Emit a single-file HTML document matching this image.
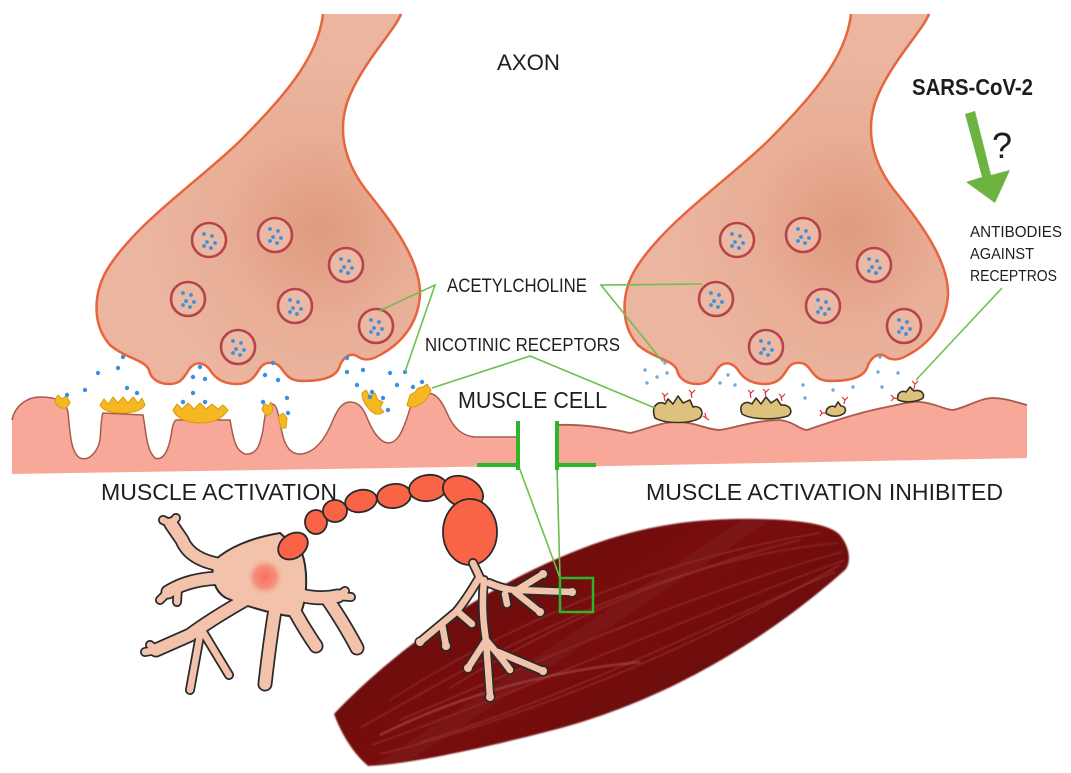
<!DOCTYPE html>
<html><head><meta charset="utf-8"><style>
html,body{margin:0;padding:0;background:#fff;}
svg{display:block;}
text{font-family:"Liberation Sans",Arial,sans-serif;fill:#1e1e1e;}
</style></head><body>
<svg width="1071" height="773" viewBox="0 0 1071 773" xmlns="http://www.w3.org/2000/svg">
<defs>
<radialGradient id="axg" gradientUnits="userSpaceOnUse" cx="320" cy="230" r="170">
<stop offset="0" stop-color="#df9a7e"/><stop offset="0.55" stop-color="#e8ad95"/><stop offset="1" stop-color="#ebb59f"/>
</radialGradient>
<radialGradient id="axg2" gradientUnits="userSpaceOnUse" cx="848" cy="230" r="170">
<stop offset="0" stop-color="#df9a7e"/><stop offset="0.55" stop-color="#e8ad95"/><stop offset="1" stop-color="#ebb59f"/>
</radialGradient>
<radialGradient id="glow" cx="0.5" cy="0.5" r="0.5">
<stop offset="0" stop-color="#f76f5e"/><stop offset="0.6" stop-color="#f6907c"/><stop offset="1" stop-color="#f2c2aa" stop-opacity="0"/>
</radialGradient>
<linearGradient id="mus" gradientUnits="userSpaceOnUse" x1="500" y1="560" x2="620" y2="740">
<stop offset="0" stop-color="#6a0707"/><stop offset="0.5" stop-color="#7a1212"/><stop offset="1" stop-color="#6c0909"/>
</linearGradient>
<filter id="soft"><feGaussianBlur stdDeviation="0.7"/></filter>
<g id="vdots" fill="#3b8fe0">
<circle cx="-5" cy="-6" r="1.9"/><circle cx="3" cy="-4" r="1.9"/><circle cx="-2" cy="2" r="1.9"/><circle cx="6" cy="3" r="1.9"/><circle cx="-5" cy="6" r="1.9"/><circle cx="2" cy="8" r="1.9"/>
</g>
<path id="axpath" d="M323,14 C318,60 280,100 241,140 C200,180 140,220 110,265 C92,292 92,325 110,345 C125,358 145,360 149,370 C151,380 160,384 170,384 C182,384 185,375 190,368 C196,361 204,362 210,370 C216,380 225,384 237,384 C252,384 256,374 260,368 C265,361 276,361 281,368 C287,376 290,381 303,381 C320,381 335,378 339,368 C342,358 350,352 357,356 C362,360 370,361 378,356 C400,345 418,325 420,295 C421,260 390,220 370,195 C345,165 335,130 350,95 C365,60 395,30 401,14"/>
</defs>

<!-- AXONS -->
<use href="#axpath" fill="url(#axg)" stroke="#e8643c" stroke-width="2.5"/>
<use href="#axpath" x="528" fill="url(#axg)" stroke="#e8643c" stroke-width="2.5"/>

<!-- vesicles -->
<g fill="#ebb8a3" stroke="#b5444d" stroke-width="2.6">
<circle cx="209" cy="240" r="17"/><circle cx="275" cy="235" r="17"/><circle cx="346" cy="265" r="17"/><circle cx="188" cy="299" r="17"/><circle cx="295" cy="306" r="17"/><circle cx="376" cy="326" r="17"/><circle cx="238" cy="347" r="17"/>
<circle cx="737" cy="240" r="17"/><circle cx="803" cy="235" r="17"/><circle cx="874" cy="265" r="17"/><circle cx="716" cy="299" r="17"/><circle cx="823" cy="306" r="17"/><circle cx="904" cy="326" r="17"/><circle cx="766" cy="347" r="17"/>
</g>
<use href="#vdots" x="209" y="240"/><use href="#vdots" x="275" y="235"/><use href="#vdots" x="346" y="265"/><use href="#vdots" x="188" y="299"/><use href="#vdots" x="295" y="306"/><use href="#vdots" x="376" y="326"/><use href="#vdots" x="238" y="347"/>
<use href="#vdots" x="737" y="240"/><use href="#vdots" x="803" y="235"/><use href="#vdots" x="874" y="265"/><use href="#vdots" x="716" y="299"/><use href="#vdots" x="823" y="306"/><use href="#vdots" x="904" y="326"/><use href="#vdots" x="766" y="347"/>

<!-- LEFT MUSCLE -->
<path d="M12,474 L12,420 C15,405 28,397 40,397 C55,397 65,400 68,412 C70,430 70,452 80,458 C90,462 98,450 100,440 C101,428 101,418 103,413 L143,415 C146,430 146,450 155,458 C165,462 170,445 172,430 C173,424 174,421 176,420 L230,420 C233,435 234,450 245,454 C257,455 260,445 263,430 C265,415 266,405 272,404 C278,404 279,420 282,432 C285,448 292,455 302,454 C315,452 325,440 333,420 C338,408 343,402 350,402 C360,402 364,410 368,420 C373,432 380,442 388,443 C398,443 403,430 408,415 C412,400 418,393 427,393 C437,393 442,402 447,413 C452,425 460,436 475,437 L516,437 L516,466 Z" fill="#f7a898"/>
<path d="M12,420 C15,405 28,397 40,397 C55,397 65,400 68,412 C70,430 70,452 80,458 C90,462 98,450 100,440 C101,428 101,418 103,413 L143,415 C146,430 146,450 155,458 C165,462 170,445 172,430 C173,424 174,421 176,420 L230,420 C233,435 234,450 245,454 C257,455 260,445 263,430 C265,415 266,405 272,404 C278,404 279,420 282,432 C285,448 292,455 302,454 C315,452 325,440 333,420 C338,408 343,402 350,402 C360,402 364,410 368,420 C373,432 380,442 388,443 C398,443 403,430 408,415 C412,400 418,393 427,393 C437,393 442,402 447,413 C452,425 460,436 475,437 L516,437" fill="none" stroke="#a85a4e" stroke-width="1.5"/>

<!-- RIGHT MUSCLE -->
<path d="M557,467 L557,425 C580,424 603,427 630,433 C645,430 660,422 677,422 C695,422 708,430 720,430 C735,428 750,421 780,420 C795,422 800,430 807,430 C830,422 860,412 887,407 C905,403 915,401 920,402 C935,403 945,410 953,410 C965,408 980,398 993,398 C1005,398 1015,402 1027,405 L1027,458 Z" fill="#f7a898"/>
<path d="M557,425 C580,424 603,427 630,433 C645,430 660,422 677,422 C695,422 708,430 720,430 C735,428 750,421 780,420 C795,422 800,430 807,430 C830,422 860,412 887,407 C905,403 915,401 920,402 C935,403 945,410 953,410 C965,408 980,398 993,398 C1005,398 1015,402 1027,405" fill="none" stroke="#a85a4e" stroke-width="1.8"/>

<!-- left receptors -->
<g fill="#f6b822" stroke="#d99a08" stroke-width="1" stroke-linejoin="round">
<path d="M55,400 L58,395 L62,399 L66,396 L70,402 Q68,409 62,408 Q56,407 55,400 Z"/>
<path d="M100,405 L104,399 L108,404 L113,397 L118,403 L123,397 L128,403 L133,397 L138,403 L142,398 L145,405 Q140,413 122,413 Q104,413 100,405 Z"/>
<path d="M173,410 L177,404 L182,409 L188,403 L194,409 L200,403 L206,409 L212,404 L218,409 L223,405 L228,410 Q220,423 200,423 Q178,422 173,410 Z"/>
<path d="M262,410 L264,403 L268,406 L271,402 L273,410 Q270,416 266,415 Z"/>
<path d="M278,417 L283,413 L287,418 L286,428 L281,428 Z"/>
<path d="M362,393 L366,390 L370,396 L375,393 L378,400 L383,402 L380,408 L384,412 Q376,417 370,410 Q362,402 362,393 Z"/>
<path d="M407,405 L410,395 L415,392 L418,388 L423,387 L427,384 L431,390 Q428,400 420,404 Q412,410 407,405 Z"/>
</g>

<!-- right receptors -->
<g fill="#dcc27c" stroke="#3a3020" stroke-width="1.6" stroke-linejoin="round">
<path d="M655,418 C650,405 660,400 665,404 L668,399 L673,404 L678,396 L683,403 L690,400 L693,407 C700,405 705,412 700,418 C690,424 665,424 655,418 Z"/>
<path d="M742,414 C738,404 746,400 752,404 L756,398 L761,404 L766,397 L771,403 L777,399 L781,405 C790,404 794,412 788,416 C775,420 752,420 742,414 Z"/>
<path d="M826,413 C826,407 832,405 835,407 L838,402 L841,406 C846,406 847,412 843,414 C838,417 830,417 826,413 Z"/>
<path d="M898,400 C896,393 902,390 906,392 L910,387 L914,391 C920,389 925,393 923,398 C918,402 905,403 898,400 Z"/>
</g>
<g stroke="#e0303a" stroke-width="1.2" fill="none">
<path d="M664,396 L665,401 M662,393 L665,396 L668,393"/>
<path d="M691,393 L692,398 M689,390 L692,393 L695,390"/>
<path d="M703,416 L706,418 M705,413 L706,418 L709,420"/>
<path d="M750,393 L751,398 M748,390 L751,393 L754,390"/>
<path d="M765,392 L766,397 M763,389 L766,392 L769,389"/>
<path d="M781,397 L782,401 M779,394 L782,397 L785,394"/>
<path d="M822,413 L826,413 M820,410 L822,413 L820,416"/>
<path d="M845,400 L844,404 M842,397 L845,400 L848,397"/>
<path d="M894,398 L898,399 M891,395 L894,398 L891,401"/>
<path d="M915,384 L914,389 M912,381 L915,384 L918,381"/>
</g>

<!-- cleft dots -->
<g fill="#3b8fe0">
<circle cx="123" cy="357" r="2.2"/><circle cx="118" cy="368" r="2.2"/><circle cx="98" cy="373" r="2.2"/><circle cx="85" cy="390" r="2.2"/><circle cx="127" cy="388" r="2.2"/><circle cx="137" cy="393" r="2.2"/><circle cx="67" cy="395" r="2.2"/>
<circle cx="200" cy="367" r="2.2"/><circle cx="193" cy="377" r="2.2"/><circle cx="205" cy="379" r="2.2"/><circle cx="193" cy="393" r="2.2"/><circle cx="183" cy="402" r="2.2"/><circle cx="205" cy="402" r="2.2"/>
<circle cx="273" cy="363" r="2.2"/><circle cx="265" cy="375" r="2.2"/><circle cx="278" cy="380" r="2.2"/><circle cx="263" cy="402" r="2.2"/><circle cx="287" cy="398" r="2.2"/><circle cx="288" cy="413" r="2.2"/>
<circle cx="347" cy="358" r="2.2"/><circle cx="347" cy="372" r="2.2"/><circle cx="363" cy="370" r="2.2"/><circle cx="390" cy="373" r="2.2"/><circle cx="405" cy="372" r="2.2"/><circle cx="357" cy="385" r="2.2"/><circle cx="397" cy="385" r="2.2"/><circle cx="372" cy="392" r="2.2"/><circle cx="383" cy="398" r="2.2"/><circle cx="388" cy="410" r="2.2"/><circle cx="413" cy="387" r="2.2"/><circle cx="422" cy="382" r="2.2"/><circle cx="370" cy="397" r="2.2"/>
</g>
<g fill="#6aaae6">
<circle cx="645" cy="370" r="1.7"/><circle cx="657" cy="377" r="1.7"/><circle cx="667" cy="373" r="1.7"/><circle cx="665" cy="363" r="1.7"/><circle cx="647" cy="383" r="1.7"/>
<circle cx="720" cy="383" r="1.7"/><circle cx="728" cy="375" r="1.7"/><circle cx="735" cy="385" r="1.7"/>
<circle cx="803" cy="385" r="1.7"/><circle cx="805" cy="398" r="1.7"/><circle cx="833" cy="390" r="1.7"/><circle cx="853" cy="387" r="1.7"/>
<circle cx="880" cy="357" r="1.7"/><circle cx="878" cy="372" r="1.7"/><circle cx="898" cy="373" r="1.7"/><circle cx="882" cy="387" r="1.7"/>
</g>

<!-- SARS arrow -->
<polygon points="965,114 975,111 991,175 1010,170 995,203 966,182 982,177" fill="#6db33f"/>

<!-- MUSCLE (bottom) -->
<g filter="url(#soft)">
<path d="M334,714 C380,665 460,600 561,557 C640,523 700,518 760,519 C800,520 830,524 840,535 C852,550 850,565 845,570 C800,610 700,690 561,728 C470,752 400,765 368,766 C350,750 340,730 334,714 Z" fill="url(#mus)"/>
<g stroke="#b04848" stroke-opacity="0.45" stroke-width="1.3" fill="none">
<path d="M360,728 C480,660 650,560 838,543"/>
<path d="M372,745 C500,700 680,620 845,560"/>
<path d="M390,700 C500,630 650,560 820,533"/>
<path d="M420,742 C560,700 700,630 835,572"/>
<path d="M450,688 C560,620 680,570 800,540"/>
<path d="M400,720 C540,660 700,590 842,552"/>
<path d="M380,754 C520,720 690,650 840,565"/>
</g>
<path d="M380,735 C470,690 560,670 640,662" stroke="#c06060" stroke-opacity="0.5" stroke-width="2" fill="none"/>
</g>

<!-- NEURON soma & dendrites: outline layer -->
<g stroke="#2a2a2a" fill="none" stroke-linecap="round" stroke-linejoin="round">
<g stroke-width="15">
<path d="M222,565 Q190,560 182,540 L171,524"/>
<path d="M225,578 Q190,578 168,592"/>
<path d="M245,600 Q210,620 190,635 L156,650"/>
<path d="M275,610 Q270,640 265,684"/>
<path d="M295,612 Q305,630 316,646"/>
<path d="M300,595 Q320,600 338,596"/>
<path d="M328,600 Q345,625 357,648"/>
</g>
<g stroke-width="10">
<path d="M171,524 L163,520 M171,524 L176,518"/>
<path d="M168,592 L160,600 M178,584 L177,602"/>
<path d="M156,650 L145,652 M156,650 L150,645"/>
<path d="M203,632 L229,675 M200,635 L190,690"/>
<path d="M338,596 L345,591 M338,596 L351,597"/>
</g>
</g>
<path d="M215,560 C228,548 250,538 280,533 L302,553 C308,570 308,600 299,617 C280,616 250,608 226,598 C212,590 210,570 215,560 Z" fill="#f2c2aa" stroke="#2a2a2a" stroke-width="2"/>
<g stroke="#f2c2aa" fill="none" stroke-linecap="round" stroke-linejoin="round">
<g stroke-width="11.5">
<path d="M222,565 Q190,560 182,540 L171,524"/>
<path d="M225,578 Q190,578 168,592"/>
<path d="M245,600 Q210,620 190,635 L156,650"/>
<path d="M275,610 Q270,640 265,684"/>
<path d="M295,612 Q305,630 316,646"/>
<path d="M300,595 Q320,600 338,596"/>
<path d="M328,600 Q345,625 357,648"/>
</g>
<g stroke-width="6.5">
<path d="M171,524 L163,520 M171,524 L176,518"/>
<path d="M168,592 L160,600 M178,584 L177,602"/>
<path d="M156,650 L145,652 M156,650 L150,645"/>
<path d="M203,632 L229,675 M200,635 L190,690"/>
<path d="M338,596 L345,591 M338,596 L351,597"/>
</g>
</g>
<path d="M220,562 C230,550 250,541 278,536 L299,555 C304,572 304,598 296,612 C278,611 252,604 230,594 C218,587 216,570 220,562 Z" fill="#f2c2aa"/>
<circle cx="265" cy="577" r="19" fill="url(#glow)"/>

<!-- axon segments -->
<g fill="#fa6446" stroke="#2a2a2a" stroke-width="1.8">
<ellipse cx="293" cy="546" rx="16" ry="12" transform="rotate(-35 293 546)"/>
<ellipse cx="316" cy="522" rx="11" ry="12"/>
<ellipse cx="335" cy="511" rx="12" ry="11"/>
<ellipse cx="361" cy="501" rx="16" ry="11" transform="rotate(-12 361 501)"/>
<ellipse cx="394" cy="496" rx="17" ry="12" transform="rotate(-8 394 496)"/>
<ellipse cx="428" cy="488" rx="19" ry="13" transform="rotate(-8 428 488)"/>
<ellipse cx="463" cy="492" rx="21" ry="15" transform="rotate(25 463 492)"/>
<ellipse cx="470" cy="532" rx="27" ry="33"/>
</g>

<!-- terminal branches -->
<g stroke="#2a2a2a" fill="none" stroke-linecap="round" stroke-linejoin="round" stroke-width="10">
<path d="M473,563 L481,580"/>
<path d="M479,578 Q466,600 456,612 L420,642"/>
<path d="M457,611 L472,624 M442,624 L446,646"/>
<path d="M484,580 Q481,610 486,640 L468,668 M486,640 L490,697 M486,640 Q503,660 510,670 M498,652 L543,671"/>
<path d="M489,583 Q505,590 517,590 L572,592 M517,590 L543,574 M515,592 L540,612 M505,594 L507,604"/>
</g>
<g fill="#2a2a2a">
<circle cx="420" cy="642" r="5.5"/><circle cx="446" cy="646" r="5.5"/><circle cx="468" cy="668" r="5.5"/><circle cx="490" cy="697" r="5.5"/><circle cx="543" cy="671" r="5.5"/><circle cx="572" cy="592" r="5.5"/><circle cx="543" cy="574" r="5.5"/><circle cx="540" cy="612" r="5.5"/>
</g>
<g stroke="#f2c2aa" fill="none" stroke-linecap="round" stroke-linejoin="round" stroke-width="6.5">
<path d="M473,563 L481,580"/>
<path d="M479,578 Q466,600 456,612 L420,642"/>
<path d="M457,611 L472,624 M442,624 L446,646"/>
<path d="M484,580 Q481,610 486,640 L468,668 M486,640 L490,697 M486,640 Q503,660 510,670 M498,652 L543,671"/>
<path d="M489,583 Q505,590 517,590 L572,592 M517,590 L543,574 M515,592 L540,612 M505,594 L507,604"/>
</g>
<g fill="#f2c2aa">
<circle cx="420" cy="642" r="4"/><circle cx="446" cy="646" r="4"/><circle cx="468" cy="668" r="4"/><circle cx="490" cy="697" r="4"/><circle cx="543" cy="671" r="4"/><circle cx="572" cy="592" r="4"/><circle cx="543" cy="574" r="4"/><circle cx="540" cy="612" r="4"/>
</g>

<!-- green leader lines (on top) -->
<g stroke="#6cbf4f" stroke-width="1.6" fill="none">
<path d="M379,311 L435,285 L405,372"/>
<path d="M702,284 L601,285 L663,362"/>
<path d="M432,388 L530,356 L655,408"/>
<path d="M1002,288 L916,380"/>
<path d="M519,467 L560,578"/>
<path d="M557,467 L560,578"/>
</g>
<rect x="560" y="578" width="33" height="34" fill="none" stroke="#2db52d" stroke-width="2.5"/>
<g stroke="#2db52d" stroke-width="4" fill="none">
<path d="M518,421 L518,470 M477,465 L518,465"/>
<path d="M557,421 L557,470 M557,465 L596,465"/>
</g>

<!-- TEXT -->
<text x="497" y="70" font-size="22" textLength="63" lengthAdjust="spacingAndGlyphs">AXON</text>
<text x="912" y="95" font-size="23" font-weight="bold" textLength="121" lengthAdjust="spacingAndGlyphs">SARS-CoV-2</text>
<text x="992" y="158" font-size="36">?</text>
<text x="970" y="237" font-size="16" textLength="92" lengthAdjust="spacingAndGlyphs">ANTIBODIES</text>
<text x="970" y="259" font-size="16" textLength="64" lengthAdjust="spacingAndGlyphs">AGAINST</text>
<text x="970" y="281" font-size="16" textLength="87" lengthAdjust="spacingAndGlyphs">RECEPTROS</text>
<text x="447" y="292" font-size="19" textLength="140" lengthAdjust="spacingAndGlyphs">ACETYLCHOLINE</text>
<text x="425" y="351" font-size="18" textLength="195" lengthAdjust="spacingAndGlyphs">NICOTINIC RECEPTORS</text>
<text x="458" y="408" font-size="23" textLength="149" lengthAdjust="spacingAndGlyphs">MUSCLE CELL</text>
<text x="101" y="500" font-size="23" textLength="236" lengthAdjust="spacingAndGlyphs">MUSCLE ACTIVATION</text>
<text x="646" y="500" font-size="23" textLength="357" lengthAdjust="spacingAndGlyphs">MUSCLE ACTIVATION INHIBITED</text>
</svg>
</body></html>
